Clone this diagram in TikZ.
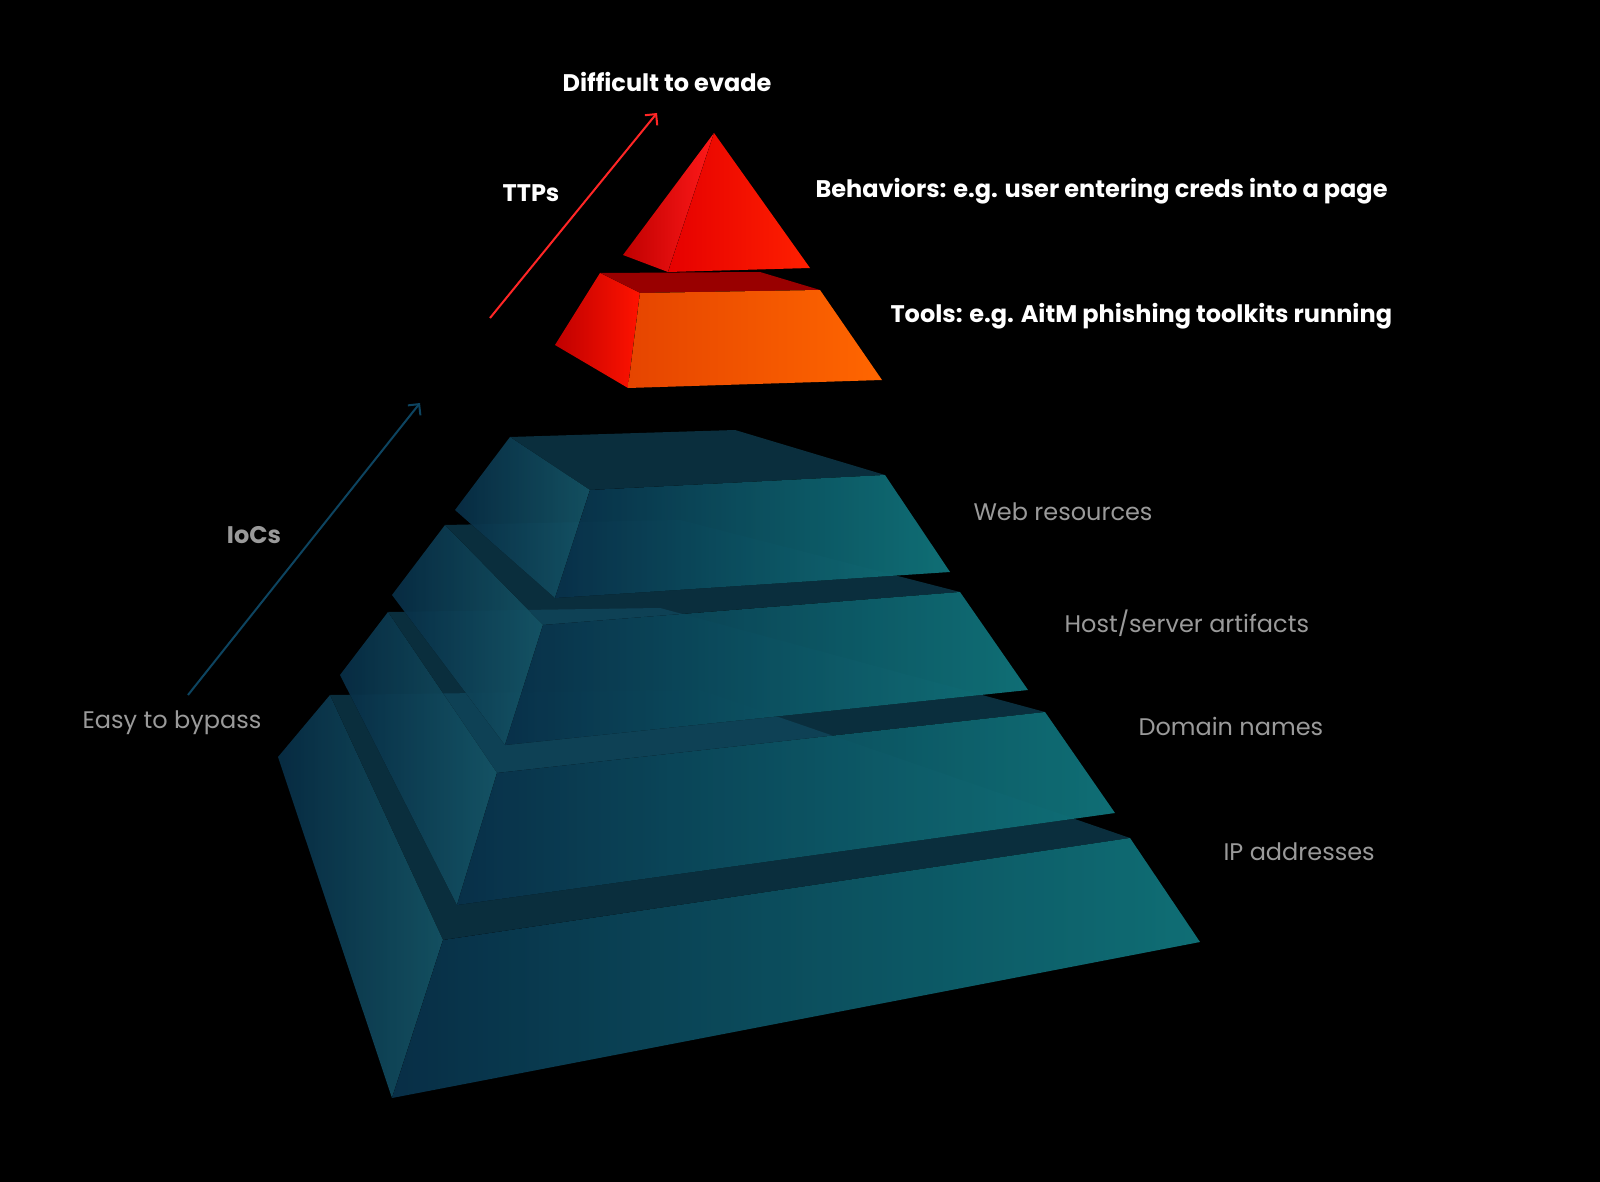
\documentclass[tikz,border=0pt]{standalone}
\usepackage{fontspec}
\setmainfont{Poppins}
\usetikzlibrary{arrows.meta}
\definecolor{lbl}{HTML}{9A9A9A}
\definecolor{tealL}{HTML}{1A6A80}
\definecolor{tealT}{HTML}{124E66}
\definecolor{tealD}{HTML}{0A3A58}
\definecolor{tealR}{HTML}{138A92}
\tikzset{
 wt/.style={text=white,font=\fontsize{24}{28}\selectfont\bfseries},
 gt/.style={text=lbl,font=\fontsize{24}{28}\selectfont},
 gtb/.style={text=lbl,font=\fontsize{24}{28}\selectfont\bfseries},
 topf/.style={fill=tealT,fill opacity=0.6},
 leftf/.style={left color=tealD,right color=tealL,fill opacity=0.75},
 frontf/.style={left color=tealD,right color=tealR,fill opacity=0.8},
}
\begin{document}
\begin{tikzpicture}[x=1pt,y=-1pt]
\fill[black] (0,0) rectangle (1600,1182);
\useasboundingbox (0,0) rectangle (1600,1182);
% IP layer
\fill[topf] (330,695)--(700,690)--(1130,838)--(443,940)--cycle;
\fill[leftf] (330,695)--(443,940)--(392,1098)--(278,757)--cycle;
\fill[frontf] (443,940)--(1130,838)--(1200,942)--(392,1098)--cycle;
% Domain layer
\fill[topf] (388,612)--(660,608)--(1045,712)--(497,773)--cycle;
\fill[leftf] (388,612)--(497,773)--(457,905)--(340,675)--cycle;
\fill[frontf] (497,773)--(1045,712)--(1115,813)--(457,905)--cycle;
% Host layer
\fill[topf] (445,525)--(680,520)--(960,592)--(543,625)--cycle;
\fill[leftf] (445,525)--(543,625)--(505,745)--(392,595)--cycle;
\fill[frontf] (543,625)--(960,592)--(1028,690)--(505,745)--cycle;
% Web layer
\fill[topf] (510,437)--(735,430)--(885,475)--(590,490)--cycle;
\fill[leftf] (510,437)--(590,490)--(555,598)--(455,510)--cycle;
\fill[frontf] (590,490)--(885,475)--(950,572)--(555,598)--cycle;
% Tools frustum
\fill[red!60!black] (600,273)--(760,272)--(820,290)--(640,293)--cycle;
\fill[left color=red!75!black,right color=red!85!orange] (600,273)--(640,293)--(628,388)--(555,345)--cycle;
\fill[left color=orange!60!red!90!black,right color=orange!80!red] (640,293)--(820,290)--(882,380)--(628,388)--cycle;
% Behaviors pyramid
\fill[left color=red!75!black,right color=red!90] (714,133)--(623,255)--(668,272)--cycle;
\fill[left color=red!90!black,right color=red!75!orange] (714,133)--(668,272)--(810,268)--cycle;
% arrows
\coordinate (ia) at (188,695); \coordinate (ib) at (420,403);
\draw[-{Straight Barb[length=8pt]},line width=2pt,draw=tealD!80!tealL] (ia)--(ib);
\coordinate (ta) at (490,318); \coordinate (tb) at (657,113);
\draw[-{Straight Barb[length=8pt]},line width=2pt,draw=red!85!white] (ta)--(tb);
% labels
\node[wt] (diff) at (667,82) {Difficult to evade};
\node[wt] (ttps) at (531,193) {TTPs};
\node[wt,anchor=west] (beh) at (812,191) {Behaviors: e.g. user entering creds into a page};
\node[wt,anchor=west] (tools) at (887,316) {Tools: e.g. AitM phishing toolkits running};
\node[gtb] (iocs) at (254,535) {IoCs};
\node[gt] (easy) at (172,723) {Easy to bypass};
\node[gt,anchor=west] (web) at (970,512) {Web resources};
\node[gt,anchor=west] (host) at (1061,623) {Host/server artifacts};
\node[gt,anchor=west] (dom) at (1135,726) {Domain names};
\node[gt,anchor=west] (ip) at (1220,852) {IP addresses};
\end{tikzpicture}
\end{document}
